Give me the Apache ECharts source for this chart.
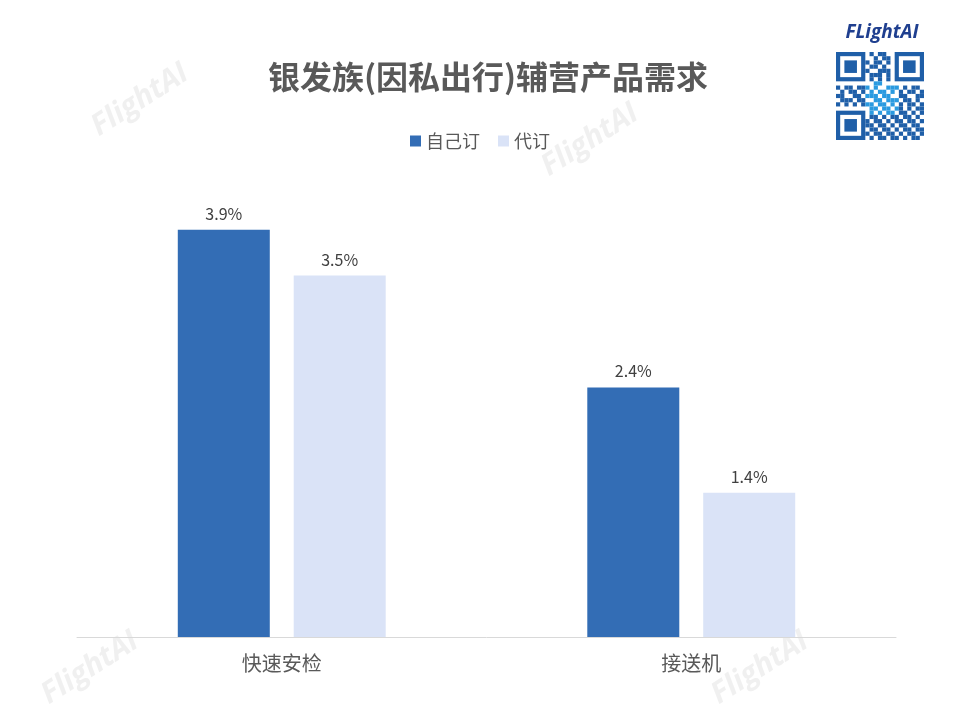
<!DOCTYPE html>
<html><head><meta charset="utf-8">
<script src="https://cdn.jsdelivr.net/npm/echarts@6/dist/echarts.min.js"></script>
<style>html,body{margin:0;padding:0;background:#fff}#c{width:960px;height:720px}</style>
</head><body><div id="c"></div>
<script>
const titleText = '银发族(因私出行)辅营产品需求';
const categories = ['快速安检', '接送机'];
const seriesNames = ['自己订', '代订'];
const selfBooked = [3.9, 2.39];
const agentBooked = [3.46, 1.38];

const chart = echarts.init(document.getElementById('c'));
const FONT = '"Noto Sans CJK SC", "Noto Sans", sans-serif';

// decorative QR-like block (not data)
const qr = [];
const qx = 836, qy = 52, qs = 88, m = 21, cell = qs / m;
function finder(cx, cy) {
  qr.push({type:'rect', shape:{x:cx, y:cy, width:cell*7, height:cell*7}, style:{fill:'#1f5fa8'}});
  qr.push({type:'rect', shape:{x:cx+cell, y:cy+cell, width:cell*5, height:cell*5}, style:{fill:'#fff'}});
  qr.push({type:'rect', shape:{x:cx+cell*2, y:cy+cell*2, width:cell*3, height:cell*3}, style:{fill:'#1f5fa8'}});
}
const pattern = [
 '000000001011000000000','000000000101100000000','000000010110100000000','000000001101000000000',
 '000000010011100000000','000000001110100000000','000000001010100000000','000000000110000000000',
 '101101110100111010110','010110101011010101101','110011011101100110011','011101100110111011010',
 '101010111011010101101','000000001101101101011','000000001010110110101','000000001101011011010',
 '000000010110101101101','000000011011010110110','000000001101101011011','000000010110110101101',
 '000000001011011010110'];
for (let r = 0; r < m; r++) for (let c = 0; c < m; c++) {
  if (pattern[r][c] === '1') qr.push({type:'rect', shape:{x:qx+c*cell, y:qy+r*cell, width:cell, height:cell}, style:{fill:(r>6&&r<15&&c>6&&c<15)?'#2a9ae0':'#1f5fa8'}});
}
finder(qx, qy); finder(qx+cell*14, qy); finder(qx, qy+cell*14);

const wm = (x, y) => ({type:'text', x:x, y:y, rotation:Math.PI/5.5, style:{text:'FlightAI', fill:'rgba(205,205,205,0.3)', font:'italic bold 30px "Open Sans", sans-serif', textAlign:'center', textVerticalAlign:'middle'}});

chart.setOption({
  backgroundColor:'#fff',
  animation:false,
  title:{text:titleText, left:483, top:56, textAlign:'center', textStyle:{fontFamily:FONT, fontSize:32, fontWeight:'bold', color:'#595959'}},
  legend:{data:seriesNames, left:'center', top:127, itemWidth:11, itemHeight:11, itemGap:18, icon:'rect', textStyle:{fontFamily:FONT, fontSize:18, color:'#595959'}},
  grid:{left:77, right:64, top:167, bottom:83},
  xAxis:{type:'category', data:categories, axisLine:{lineStyle:{color:'#d9d9d9'}}, axisTick:{show:false}, axisLabel:{fontFamily:FONT, fontSize:20, color:'#595959', margin:16}},
  yAxis:{type:'value', min:0, max:4.5, show:false, splitLine:{show:false}},
  series:[
    {name:seriesNames[0], type:'bar', data:selfBooked, barWidth:92, barGap:'26%', itemStyle:{color:'#336DB5'},
     label:{show:true, position:'top', distance:8, fontFamily:FONT, fontSize:16, color:'#404040', formatter:p=>p.value.toFixed(1)+'%'}},
    {name:seriesNames[1], type:'bar', data:agentBooked, barWidth:92, itemStyle:{color:'#DAE3F7'},
     label:{show:true, position:'top', distance:8, fontFamily:FONT, fontSize:16, color:'#404040', formatter:p=>p.value.toFixed(1)+'%'}}
  ],
  graphic:[
    wm(140, 100), wm(590, 140), wm(90, 668), wm(760, 668),
    {type:'text', x:882, y:33, style:{text:'FLightAI', fill:'#1f3f8f', font:'italic bold 19px "Open Sans", sans-serif', textAlign:'center', textVerticalAlign:'middle'}},
    {type:'group', children:qr}
  ]
});
</script></body></html>
